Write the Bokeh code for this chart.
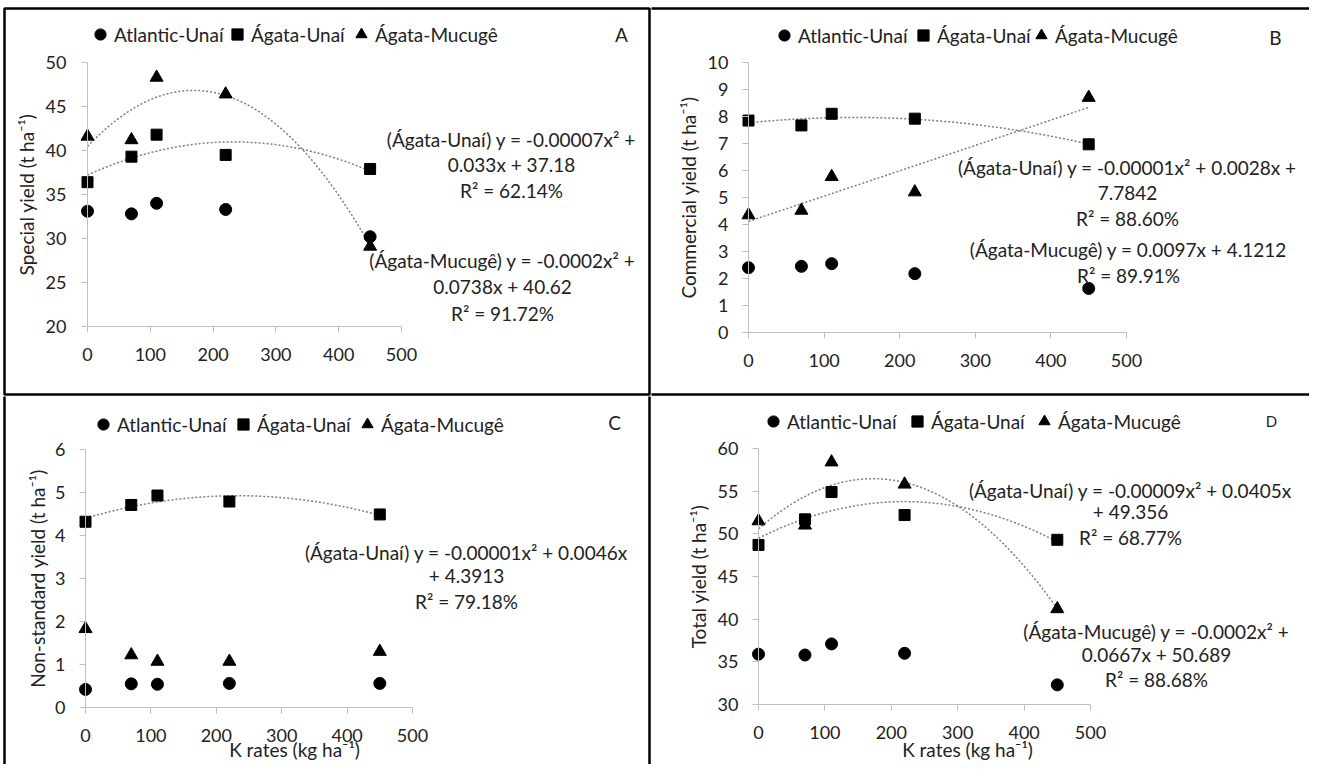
import numpy as np
from bokeh.plotting import figure
from bokeh.models import (Range1d, LinearAxis, FixedTicker, Label, Legend,
                          LegendItem, BoxAnnotation)
from bokeh.layouts import column, row
from bokeh.embed import file_html
from bokeh.resources import INLINE

# ---------------- data ----------------
k_rates = [0, 70, 110, 220, 450]
series_names = ["Atlantic-Unaí", "Ágata-Unaí", "Ágata-Mucugê"]

special_atlantic_unai = [33.1, 32.8, 34.0, 33.3, 30.2]
special_agata_unai = [36.4, 39.3, 41.8, 39.5, 37.9]
special_agata_mucuge = [41.6, 41.2, 48.3, 46.4, 29.1]

commercial_atlantic_unai = [2.40, 2.45, 2.55, 2.18, 1.63]
commercial_agata_unai = [7.85, 7.67, 8.10, 7.92, 6.97]
commercial_agata_mucuge = [4.35, 4.52, 5.77, 5.20, 8.70]

nonstandard_atlantic_unai = [0.42, 0.55, 0.54, 0.56, 0.56]
nonstandard_agata_unai = [4.32, 4.71, 4.93, 4.79, 4.49]
nonstandard_agata_mucuge = [1.83, 1.22, 1.07, 1.07, 1.30]

total_atlantic_unai = [35.9, 35.8, 37.1, 36.0, 32.3]
total_agata_unai = [48.7, 51.7, 54.9, 52.2, 49.3]
total_agata_mucuge = [51.5, 51.0, 58.4, 55.8, 41.2]

x_ticks = [0, 100, 200, 300, 400, 500]
special_ticks = [20, 25, 30, 35, 40, 45, 50]
commercial_ticks = list(range(0, 11))
nonstandard_ticks = list(range(0, 7))
total_ticks = [30, 35, 40, 45, 50, 55, 60]

y_title_special = "Special yield (t ha⁻¹)"
y_title_commercial = "Commercial yield (t ha⁻¹)"
y_title_nonstandard = "Non-standard yield (t ha⁻¹)"
y_title_total = "Total yield (t ha⁻¹)"
x_title = "K rates (kg ha⁻¹)"

eq_special_unai = ["(Ágata-Unaí) y = -0.00007x² +", "0.033x + 37.18", "R² = 62.14%"]
eq_special_mucuge = ["(Ágata-Mucugê) y = -0.0002x² +", "0.0738x + 40.62", "R² = 91.72%"]
eq_commercial_unai = ["(Ágata-Unaí) y = -0.00001x² + 0.0028x +", "7.7842", "R² = 88.60%"]
eq_commercial_mucuge = ["(Ágata-Mucugê) y = 0.0097x + 4.1212", "R² = 89.91%"]
eq_nonstandard_unai = ["(Ágata-Unaí) y = -0.00001x² + 0.0046x", "+ 4.3913", "R² = 79.18%"]
eq_total_unai = ["(Ágata-Unaí) y = -0.00009x² + 0.0405x", "+ 49.356", "R² = 68.77%"]
eq_total_mucuge = ["(Ágata-Mucugê) y = -0.0002x² +", "0.0667x + 50.689", "R² = 88.68%"]

# ---------------- styling ----------------
FONT = "Lato"
TXT = "#222222"
AXC = "#BFBFBF"
FS = "19px"
TICK_FS = "18px"
MARKERS = [("circle", 12), ("square", 11), ("triangle", 13)]
GLYPH = 28


class Panel:
    def __init__(self, W, H, xpx, xdat, ypx, ydat):
        self.W, self.H = W, H
        self.px0, self.px1 = xpx
        self.d0, self.d1 = xdat
        self.py0, self.py1 = ypx
        self.dt, self.db = ydat
        self.sx = (self.px1 - self.px0) / (self.d1 - self.d0)
        self.sy = (self.py1 - self.py0) / (self.dt - self.db)
        p = figure(width=W, height=H,
                   x_range=Range1d(self.xd(0), self.xd(W)),
                   y_range=Range1d(self.yd(H), self.yd(0)),
                   output_backend="svg", toolbar_location=None,
                   x_axis_location=None, y_axis_location=None,
                   min_border=0)
        p.outline_line_color = None
        p.background_fill_color = "white"
        p.border_fill_color = "white"
        p.xgrid.visible = False
        p.ygrid.visible = False
        self.p = p

    def xd(self, px):
        return self.d0 + (px - self.px0) / self.sx

    def yd(self, py):
        return self.dt - (py - self.py0) / self.sy

    def axes(self, yticks, ytitle, xstand=15, ystand=15, tstand=5):
        xa = LinearAxis(fixed_location=self.db, bounds=(self.d0, self.d1),
                        ticker=FixedTicker(ticks=x_ticks))
        ya = LinearAxis(fixed_location=self.d0, bounds=(self.db, self.dt),
                        ticker=FixedTicker(ticks=yticks), axis_label=ytitle)
        for a, st in ((xa, xstand), (ya, ystand)):
            a.axis_line_color = AXC
            a.major_tick_line_color = AXC
            a.minor_tick_line_color = None
            a.major_tick_in = 0
            a.major_tick_out = 6
            a.major_label_standoff = st
            a.major_label_text_font = FONT
            a.major_label_text_font_size = TICK_FS
            a.major_label_text_color = TXT
        ya.axis_label_text_font = FONT
        ya.axis_label_text_font_size = FS
        ya.axis_label_text_font_style = "normal"
        ya.axis_label_text_color = TXT
        ya.axis_label_standoff = tstand
        self.p.add_layout(xa, "below")
        self.p.add_layout(ya, "left")

    def series(self, values_list, legend_pos):
        half = GLYPH / 2
        for vals, (mk, sz), name, (cx, cy) in zip(values_list, MARKERS, series_names, legend_pos):
            r = self.p.scatter(k_rates, vals, marker=mk, size=sz, color="black")
            leg = Legend(items=[LegendItem(label=name, renderers=[r])],
                         location=(cx - 1 - half, self.H - cy - half),
                         orientation="horizontal", glyph_width=GLYPH, glyph_height=GLYPH,
                         label_standoff=0, padding=0, margin=0,
                         border_line_color=None, background_fill_alpha=0,
                         label_text_font=FONT, label_text_font_size=FS,
                         label_text_color=TXT)
            self.p.add_layout(leg)

    def trend(self, vals, deg):
        coef = np.polyfit(k_rates, vals, deg)
        xs = np.linspace(min(k_rates), max(k_rates), 120)
        self.p.line(xs, np.polyval(coef, xs), line_color="#7F7F7F",
                    line_width=1.5, line_dash="2 2")

    def text(self, s, cx, cy, size=FS, align="center", angle=0):
        self.p.add_layout(Label(x=self.xd(cx), y=self.yd(cy), text=s,
                                text_align=align, text_baseline="middle",
                                text_font=FONT, text_font_size=size,
                                text_color=TXT, angle=angle))

    def lines(self, texts, cx, ys):
        for s, y in zip(texts, ys):
            self.text(s, cx, y)

    def border(self, l, r, t, b, w=2.5):
        self.p.add_layout(BoxAnnotation(left=self.xd(l), right=self.xd(r),
                                        top=self.yd(t), bottom=self.yd(b),
                                        fill_color=None, fill_alpha=0,
                                        line_color="black", line_alpha=1.0,
                                        line_width=w))


# ---------------- Panel A ----------------
A = Panel(651, 396, (87, 401), (0, 500), (62, 326), (50, 20))
A.border(4, 649, 8, 394)
A.axes(special_ticks, y_title_special, ystand=15, tstand=5)
A.trend(special_agata_unai, 2)
A.trend(special_agata_mucuge, 2)
A.series([special_atlantic_unai, special_agata_unai, special_agata_mucuge],
         [(101, 34), (238, 34), (362, 34)])
A.lines(eq_special_unai, 511, [139, 164, 190])
A.lines(eq_special_mucuge, 502, [260, 286, 313])
A.text("A", 621, 34)

# ---------------- Panel B ----------------
B = Panel(658, 396, (97, 475), (0, 500), (62, 332), (10, 0))
B.border(-20, 700, 8, 394)
B.axes(commercial_ticks, y_title_commercial, ystand=14, tstand=5)
B.trend(commercial_agata_unai, 2)
B.trend(commercial_agata_mucuge, 1)
B.series([commercial_atlantic_unai, commercial_agata_unai, commercial_agata_mucuge],
         [(134, 35), (273, 35), (391, 35)])
B.lines(eq_commercial_unai, 476, [167, 192, 218])
B.lines(eq_commercial_mucuge, 477, [249, 275])
B.text("B", 624, 37)

# ---------------- Panel C ----------------
C = Panel(651, 368, (85, 412), (0, 500), (53, 311), (6, 0))
C.border(4, 649, -20, 400)
C.axes(nonstandard_ticks, y_title_nonstandard, ystand=14, tstand=3)
C.trend(nonstandard_agata_unai, 2)
C.series([nonstandard_atlantic_unai, nonstandard_agata_unai, nonstandard_agata_mucuge],
         [(104, 28), (244, 28), (368, 28)])
C.lines(eq_nonstandard_unai, 466, [156, 179, 205])
C.text("C", 614, 26)
C.text(x_title, 294, 353)

# ---------------- Panel D ----------------
D = Panel(658, 368, (107, 439), (0, 500), (52, 308), (60, 30))
D.axes(total_ticks, y_title_total, ystand=14, tstand=5)
D.trend(total_agata_unai, 2)
D.trend(total_agata_mucuge, 2)
D.series([total_atlantic_unai, total_agata_unai, total_agata_mucuge],
         [(123, 25), (267, 25), (394, 25)])
D.lines(eq_total_unai, 479, [94, 115, 141])
D.lines(eq_total_mucuge, 505, [235, 258, 283])
D.text("D", 620, 24, size="15px")
D.text(x_title, 316, 353)

layout = column(row(A.p, B.p), row(C.p, D.p))
open("out.html", "w").write(file_html(layout, INLINE))
